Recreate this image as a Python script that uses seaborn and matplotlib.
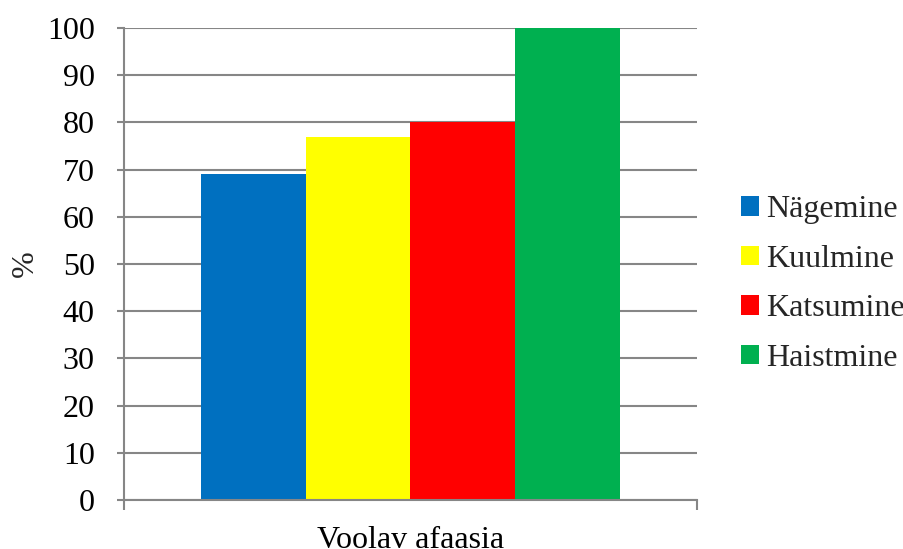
import matplotlib
matplotlib.use("Agg")
import matplotlib.pyplot as plt
import pandas as pd
import seaborn as sns

# Data
groups = ["Voolav afaasia"]
senses = ["Nägemine", "Kuulmine", "Katsumine", "Haistmine"]
values = [69, 77, 80, 100]
colors = ["#0070C0", "#FFFF00", "#FF0000", "#00B050"]
y_ticks = [0, 10, 20, 30, 40, 50, 60, 70, 80, 90, 100]

df = pd.DataFrame({
    "group": groups * len(senses),
    "sense": senses,
    "value": values,
})

sns.set_theme(style="white")
plt.rcParams["font.family"] = ["Liberation Serif", "DejaVu Serif"]

fig = plt.figure(figsize=(9.04, 5.49), dpi=100)
ax = fig.add_axes([124 / 904, 49 / 549, 573 / 904, 472 / 549])

sns.barplot(data=df, x="group", y="value", hue="sense", hue_order=senses,
            palette=colors, saturation=1, width=0.73, gap=0, ax=ax,
            edgecolor="none", linewidth=0)

grid_c = "#868686"
fs = 23
ax.set_ylim(0, 100)
ax.set_xlim(-0.5, 0.5)
ax.set_yticks(y_ticks)
ax.set_yticklabels([str(v) for v in y_ticks], fontsize=fs, color="black")
ax.yaxis.grid(True, color=grid_c, linewidth=1.5)
ax.set_axisbelow(True)
ax.tick_params(axis="y", which="major", length=5, width=1.5, color=grid_c,
               left=True, pad=16)

# category label centred, tick marks on the category edges
ax.set_xticks([0])
ax.set_xticklabels(groups, fontsize=fs, color="black")
ax.tick_params(axis="x", which="major", length=0, pad=19)
ax.set_xticks([-0.5, 0.5], minor=True)
ax.tick_params(axis="x", which="minor", length=7, width=1.5, color=grid_c,
               bottom=True)

ax.set_xlabel("")
ax.set_ylabel("%", fontsize=fs, labelpad=5)

for side in ["top", "right"]:
    ax.spines[side].set_visible(False)
for side in ["left", "bottom"]:
    ax.spines[side].set_color(grid_c)
    ax.spines[side].set_linewidth(1.5)

leg = ax.legend(loc="center left", bbox_to_anchor=(741 / 904, 265 / 549),
                bbox_transform=fig.transFigure, frameon=False, fontsize=fs,
                handlelength=0.55, handleheight=0.55, handletextpad=0.25,
                labelspacing=0.64, borderaxespad=0, borderpad=0)

fig.savefig("out.png", dpi=100)
